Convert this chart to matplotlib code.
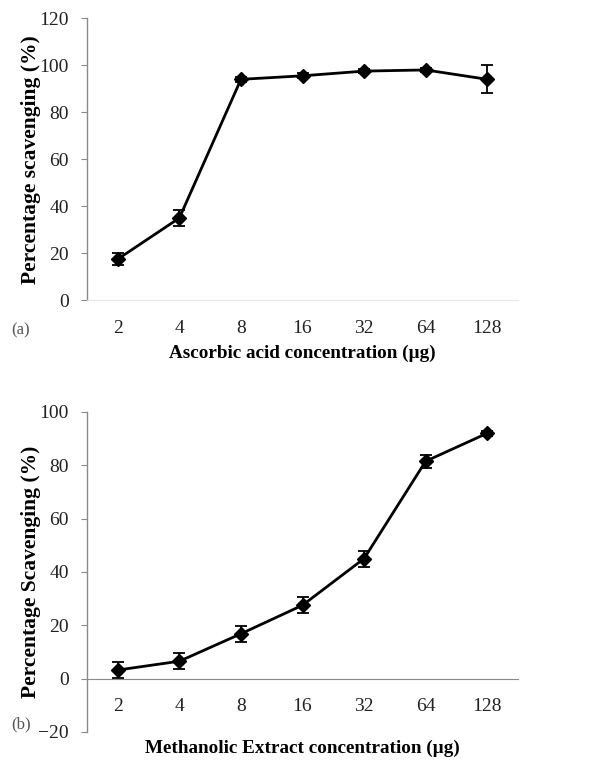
import matplotlib
matplotlib.use("Agg")
import matplotlib.pyplot as plt

# category labels (concentration, ug)
conc = ["2", "4", "8", "16", "32", "64", "128"]

# (a) ascorbic acid
ascorbic = [17.5, 35, 94, 95.5, 97.5, 98, 94]
ascorbic_err = [2.5, 3.5, 1, 1, 1, 1, 6]

# (b) methanolic extract
extract = [3.2, 6.5, 16.8, 27.5, 45, 81.5, 92]
extract_err = [3, 3, 3, 3, 3, 2.5, 1]

plt.rcParams["font.family"] = ["Liberation Serif", "DejaVu Serif"]

fig = plt.figure(figsize=(6.13, 7.6), dpi=100)
ax1 = fig.add_axes([0.142, 0.605, 0.703, 0.371])
ax2 = fig.add_axes([0.142, 0.037, 0.703, 0.421])

xs = list(range(len(conc)))


def style(ax):
    for s in ("top", "right"):
        ax.spines[s].set_visible(False)
    ax.spines["left"].set_color("#8a8a8a")
    ax.spines["left"].set_linewidth(1.0)
    ax.set_xlim(-0.5, len(conc) - 0.5)
    ax.set_xticks(xs)
    ax.set_xticklabels(conc)
    ax.tick_params(axis="x", length=0, labelsize=14, colors="#222222")
    ax.tick_params(axis="y", length=4, labelsize=14, colors="#222222",
                   direction="out", color="#8a8a8a", pad=9)
    ax.yaxis.set_label_coords(-0.107, 0.5)


# top panel
ax1.errorbar(xs, ascorbic, yerr=ascorbic_err, color="black", lw=2,
             marker="D", ms=7.5, capsize=4, elinewidth=1.3, capthick=1.3)
style(ax1)
ax1.set_ylim(0, 120)
ax1.set_yticks(range(0, 121, 20))
ax1.spines["bottom"].set_color("#e6e6e6")
ax1.tick_params(axis="x", pad=14)
ax1.set_ylabel("Percentage scavenging (%)", fontsize=15.5, fontweight="bold")
ax1.set_xlabel("Ascorbic acid concentration (\u00b5g)", fontsize=13.8,
               fontweight="bold", labelpad=6)
fig.text(0.018, 0.56, "(a)", fontsize=12, color="#555555")

# bottom panel
ax2.errorbar(xs, extract, yerr=extract_err, color="black", lw=2,
             marker="D", ms=7.5, capsize=4, elinewidth=1.3, capthick=1.3)
style(ax2)
ax2.set_ylim(-20, 100)
ax2.set_yticks(range(-20, 101, 20))
ax2.spines["bottom"].set_position(("data", 0))
ax2.spines["bottom"].set_color("#8a8a8a")
ax2.tick_params(axis="x", pad=14)
ax2.set_ylabel("Percentage Scavenging (%)", fontsize=15.5, fontweight="bold")
ax2.set_xlabel("Methanolic Extract concentration (\u00b5g)", fontsize=13.8,
               fontweight="bold")
ax2.xaxis.set_label_coords(0.5, -0.025)
fig.text(0.018, 0.042, "(b)", fontsize=12, color="#555555")

fig.savefig("out.png", dpi=100, facecolor="white")
